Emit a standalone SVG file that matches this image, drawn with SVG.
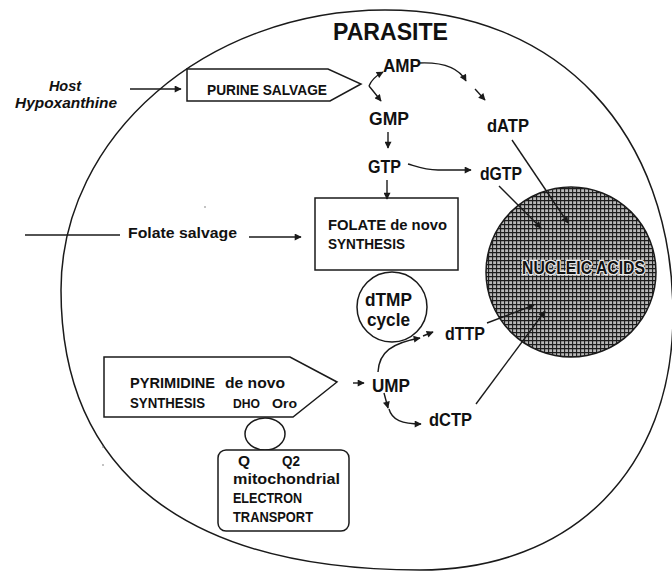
<svg xmlns="http://www.w3.org/2000/svg" width="672" height="572" viewBox="0 0 672 572">
<style>
text{font-family:"Liberation Sans",Arial,sans-serif;fill:#111}
.b{font-weight:bold}
.m{font-size:17.5px;font-weight:bold}
.h{font-size:15.5px;font-weight:bold}
.shape{fill:none;stroke:#1a1a1a;stroke-width:1.5}
.box{fill:#fff;stroke:#1a1a1a;stroke-width:1.5}
#connectors path{fill:none;stroke:#1a1a1a;stroke-width:1.4;marker-end:url(#ah)}
#connectors path.plain{marker-end:none}
</style>
<defs>
<marker id="ah" viewBox="0 0 10 10" refX="9" refY="5" markerWidth="9" markerHeight="7" markerUnits="userSpaceOnUse" orient="auto"><path d="M0,0L10,5L0,10z" fill="#1a1a1a"/></marker>
<pattern id="hatch" width="4" height="4" patternUnits="userSpaceOnUse"><rect width="4" height="4" fill="#b8b8b8"/><path d="M0,0.6H4M0.6,0V4" stroke="#1c1c1c" stroke-width="1.1"/></pattern>
</defs>
<rect width="672" height="572" fill="#fff"/>

<g id="parasite">
<path class="shape" d="M385,10 C558,10 673,132 673,315 C673,469 572,570 420,570 C187,570 61,473 61,290 C61,136 207,10 385,10 Z"/>
<text class="b" x="333" y="40" font-size="24" textLength="115" lengthAdjust="spacingAndGlyphs">PARASITE</text>
</g>

<g id="host">
<text class="b" x="65" y="91" font-size="14.5" font-style="italic" text-anchor="middle">Host</text>
<text class="b" x="15" y="108" font-size="14.5" font-style="italic" textLength="102" lengthAdjust="spacingAndGlyphs">Hypoxanthine</text>
</g>

<g id="purine">
<path class="box" d="M187,69 H328 L361,84 L330,101 H187 Z"/>
<text class="b" x="207" y="95" font-size="15" textLength="120" lengthAdjust="spacingAndGlyphs">PURINE SALVAGE</text>
</g>

<g id="amp"><text class="m" x="383" y="72" textLength="38" lengthAdjust="spacingAndGlyphs">AMP</text></g>
<g id="gmp"><text class="m" x="369" y="125" textLength="40" lengthAdjust="spacingAndGlyphs">GMP</text></g>
<g id="gtp"><text class="m" x="368" y="173" textLength="33" lengthAdjust="spacingAndGlyphs">GTP</text></g>
<g id="datp"><text class="m" x="487" y="132" textLength="42" lengthAdjust="spacingAndGlyphs">dATP</text></g>
<g id="dgtp"><text class="m" x="480" y="180" textLength="42" lengthAdjust="spacingAndGlyphs">dGTP</text></g>

<g id="folate">
<rect class="box" x="315" y="198" width="143" height="72"/>
<text class="b" x="328" y="230" font-size="15.5" textLength="119" lengthAdjust="spacingAndGlyphs">FOLATE de novo</text>
<text class="b" x="328" y="249" font-size="15.5" textLength="77" lengthAdjust="spacingAndGlyphs">SYNTHESIS</text>
</g>

<g id="folate-salvage">
<text class="b" x="128" y="238" font-size="15.5" textLength="109" lengthAdjust="spacingAndGlyphs">Folate salvage</text>
</g>

<g id="dtmp">
<circle class="box" cx="392" cy="307" r="35"/>
<text class="m" x="365" y="306" textLength="47" lengthAdjust="spacingAndGlyphs">dTMP</text>
<text class="m" x="367" y="326" textLength="43" lengthAdjust="spacingAndGlyphs">cycle</text>
</g>

<g id="nucleic">
<circle cx="571" cy="272" r="85" fill="url(#hatch)" stroke="#1a1a1a" stroke-width="1.5"/>
<text class="b" x="522" y="274" font-size="18" textLength="123" lengthAdjust="spacingAndGlyphs" stroke="#e8e8e8" stroke-width="2.5" paint-order="stroke">NUCLEIC ACIDS</text>
</g>

<g id="dttp"><text class="m" x="445" y="340" textLength="40" lengthAdjust="spacingAndGlyphs">dTTP</text></g>
<g id="ump"><text class="m" x="372" y="392" textLength="38" lengthAdjust="spacingAndGlyphs">UMP</text></g>
<g id="dctp"><text class="m" x="429" y="426" textLength="43" lengthAdjust="spacingAndGlyphs">dCTP</text></g>

<g id="pyrimidine">
<path class="box" d="M104,357 H290 L337,382 L293,417 H104 Z"/>
<text class="h" x="130" y="388" textLength="85" lengthAdjust="spacingAndGlyphs">PYRIMIDINE</text>
<text class="h" x="225" y="388" textLength="60" lengthAdjust="spacingAndGlyphs">de novo</text>
<text class="h" x="130" y="408" textLength="75" lengthAdjust="spacingAndGlyphs">SYNTHESIS</text>
<text class="b" x="233" y="408" font-size="12" textLength="27" lengthAdjust="spacingAndGlyphs">DHO</text>
<text class="b" x="272" y="408" font-size="13" textLength="25" lengthAdjust="spacingAndGlyphs">Oro</text>
</g>

<g id="link">
<ellipse class="box" cx="265" cy="434" rx="20" ry="16"/>
</g>

<g id="etc">
<rect class="box" x="218" y="450" width="131" height="81" rx="8"/>
<text class="h" x="238" y="466">Q</text>
<text class="h" x="282" y="466" textLength="18" lengthAdjust="spacingAndGlyphs">Q2</text>
<text class="h" x="233" y="484" textLength="107" lengthAdjust="spacingAndGlyphs">mitochondrial</text>
<text class="h" x="233" y="503" textLength="69" lengthAdjust="spacingAndGlyphs">ELECTRON</text>
<text class="h" x="233" y="522" textLength="80" lengthAdjust="spacingAndGlyphs">TRANSPORT</text>
</g>

<g id="connectors">
<path d="M130,89 H181"/>
<path d="M369,86 Q372,78 383,72"/>
<path d="M369,86 Q374,92 381,101"/>
<path d="M419,63 C442,62 459,68 466,81"/>
<path d="M475,89 L485,100"/>
<path d="M388,132 V148"/>
<path d="M408,164 C418,167 425,170 438,170 H471"/>
<path d="M387,180 V199"/>
<path class="plain" d="M25,235 H120"/>
<path d="M249,237 H301"/>
<path d="M512,140 L568,223"/>
<path d="M499,186 L541,228"/>
<path d="M487,323 L534,305"/>
<path d="M476,404 L545,311"/>
<path d="M378,372 C379,352 392,343 420,338"/>
<path d="M423,336 L433,332"/>
<path d="M353,383 H364"/>
<path d="M384,393 L388,408"/>
<path d="M389,409 C392,420 402,424 421,424"/>
</g>

<g id="specks" fill="#777">
<circle cx="205" cy="207" r="0.8"/>
<circle cx="103" cy="447" r="0.8"/>
<circle cx="103" cy="465" r="0.8"/>
</g>
</svg>
